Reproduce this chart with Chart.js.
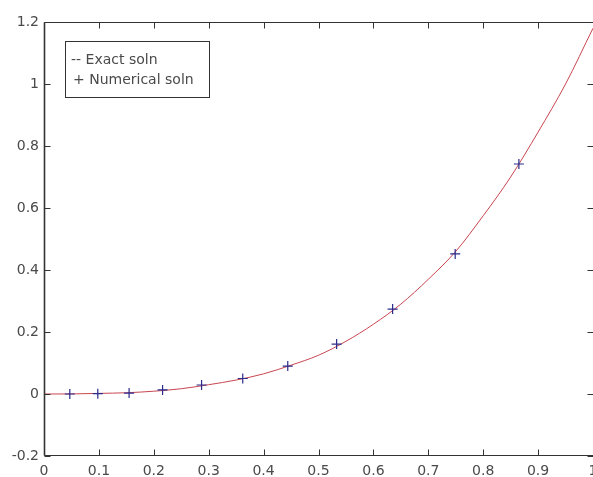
<!DOCTYPE html>
<html>
<head>
<meta charset="utf-8">
<script src="https://cdn.jsdelivr.net/npm/chart.js@4/dist/chart.umd.min.js"></script>
<style>
  body { margin: 0; background: #fff; }
  #wrap { width: 593px; height: 477px; }
</style>
</head>
<body>
<div id="wrap"><canvas id="myChart" width="593" height="477"></canvas></div>
<script>
// exact solution
var exactX = [0, 0.05, 0.1, 0.15, 0.2, 0.25, 0.3, 0.35, 0.4, 0.45, 0.5, 0.55, 0.6, 0.65, 0.7, 0.75, 0.8, 0.85, 0.9, 0.95, 1.0]
var exactY = [0, 0.0003, 0.002, 0.004, 0.009, 0.017, 0.03, 0.045, 0.065, 0.093, 0.125, 0.17, 0.225, 0.29, 0.37, 0.46, 0.575, 0.7, 0.845, 1.0, 1.18]

// numerical solution (the + markers)
var numX = [0.047, 0.098, 0.155, 0.216, 0.287, 0.362, 0.444, 0.533, 0.635, 0.749, 0.865]
var numY = [0, 0.001, 0.003, 0.013, 0.029, 0.05, 0.09, 0.161, 0.274, 0.452, 0.742]

var legendLabels = ['-- Exact soln', '+ Numerical soln']

var xTicks = [0, 0.1, 0.2, 0.3, 0.4, 0.5, 0.6, 0.7, 0.8, 0.9, 1]
var yTicks = [-0.2, 0, 0.2, 0.4, 0.6, 0.8, 1, 1.2]

const FONT = 'DejaVu Sans'
const TXT = '#4a4a4a'

// MATLAB style axes with inward ticks + boxed legend
const boxPlugin = {
  id: 'box',
  afterDraw(chart) {
    const ctx = chart.ctx, a = chart.chartArea
    const sx = chart.scales.x, sy = chart.scales.y
    const L = Math.round(a.left) + 0.5, R = Math.round(a.right) + 0.5
    const T = Math.round(a.top) + 0.5, B = Math.round(a.bottom) - 0.5
    ctx.save()
    ctx.strokeStyle = '#333'
    ctx.lineWidth = 1
    ctx.beginPath()
    ctx.moveTo(L, B); ctx.lineTo(R, B)
    ctx.moveTo(L, T); ctx.lineTo(R, T)
    xTicks.forEach(v => {
      const px = Math.round(sx.getPixelForValue(v)) + 0.5
      ctx.moveTo(px, B); ctx.lineTo(px, B - 6)
      ctx.moveTo(px, T); ctx.lineTo(px, T + 6)
    })
    yTicks.forEach(v => {
      const py = Math.round(sy.getPixelForValue(v)) + 0.5
      ctx.moveTo(L, py); ctx.lineTo(L + 6, py)
      ctx.moveTo(R, py); ctx.lineTo(R - 6, py)
    })
    ctx.stroke()
    // left axis looks heavier in the original
    ctx.lineWidth = 1.6
    ctx.beginPath(); ctx.moveTo(L, T); ctx.lineTo(L, B); ctx.stroke()

    // legend box
    ctx.lineWidth = 1
    ctx.fillStyle = '#fff'
    ctx.fillRect(65.5, 41.5, 144, 56)
    ctx.strokeRect(65.5, 41.5, 144, 56)
    ctx.fillStyle = TXT
    ctx.font = '14px "' + FONT + '"'
    ctx.textBaseline = 'middle'
    ctx.fillText(legendLabels[0], 71, 60)
    ctx.fillText(legendLabels[1], 73, 80)
    ctx.restore()
  }
}

const ctx = document.getElementById('myChart').getContext('2d')

const chart = new Chart(ctx, {
  type: 'scatter',
  data: {
    datasets: [{
      label: 'Exact soln',
      data: exactX.map((x, i) => ({ x: x, y: exactY[i] })),
      showLine: true,
      borderColor: 'rgb(200, 70, 80)',
      borderWidth: 1,
      pointRadius: 0,
      cubicInterpolationMode: 'monotone',
      order: 1
    }, {
      label: 'Numerical soln',
      data: numX.map((x, i) => ({ x: x, y: numY[i] })),
      showLine: false,
      pointStyle: 'cross',
      pointRadius: 5,
      borderColor: '#2b2b8c',
      borderWidth: 1.2,
      order: 0
    }]
  },
  plugins: [boxPlugin],
  options: {
    responsive: false,
    animation: false,
    layout: { autoPadding: false, padding: { top: 22, right: 0, left: 0, bottom: 0 } },
    plugins: { legend: { display: false }, tooltip: { enabled: false } },
    scales: {
      x: {
        type: 'linear',
        min: 0, max: 1,
        afterFit: (s) => { s.height = 21; s.paddingLeft = 0; s.paddingRight = 0 },
        afterBuildTicks: (s) => { s.ticks = xTicks.map(v => ({ value: v })) },
        grid: { display: false, drawTicks: false },
        border: { display: false },
        ticks: {
          padding: 7,
          color: TXT,
          font: { family: FONT, size: 14 },
          maxRotation: 0,
          autoSkip: false,
          callback: (v) => String(+v.toFixed(1))
        }
      },
      y: {
        min: -0.2, max: 1.2,
        afterFit: (s) => { s.width = 44; s.paddingTop = 0; s.paddingBottom = 0 },
        afterBuildTicks: (s) => { s.ticks = yTicks.map(v => ({ value: v })) },
        grid: { display: false, drawTicks: false },
        border: { display: false },
        ticks: {
          padding: 5,
          color: TXT,
          font: { family: FONT, size: 14 },
          autoSkip: false,
          callback: (v) => String(+v.toFixed(1))
        }
      }
    }
  }
})
</script>
</body>
</html>
